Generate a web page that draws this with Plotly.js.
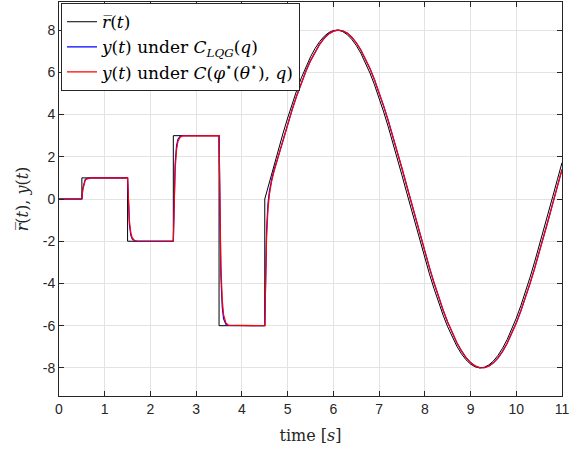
<!DOCTYPE html>
<html>
<head>
<meta charset="utf-8">
<script src="https://cdn.plot.ly/plotly-3.0.1.min.js"></script>
<style>html,body{margin:0;padding:0;background:#fff;}#plot{width:575px;height:449px;}</style>
</head>
<body>
<div id="plot"></div>
<script>
// Reference signal r(t): steps then sinusoid
const rTime = [0, 0.5, 0.5, 1.5, 1.5, 2.5, 2.5, 3.5, 3.5, 4.5,
  4.5, 4.6, 4.7, 4.8, 4.9, 5.0, 5.1, 5.2, 5.3, 5.4, 5.5, 5.6, 5.7, 5.8, 5.9, 6.0, 6.1, 6.2, 6.3, 6.4,
  6.5, 6.6, 6.7, 6.8, 6.9, 7.0, 7.1, 7.2, 7.3, 7.4, 7.5, 7.6, 7.7, 7.8, 7.9, 8.0, 8.1, 8.2, 8.3, 8.4,
  8.5, 8.6, 8.7, 8.8, 8.9, 9.0, 9.1, 9.2, 9.3, 9.4, 9.5, 9.6, 9.7, 9.8, 9.9, 10.0, 10.1, 10.2, 10.3, 10.4,
  10.5, 10.6, 10.7, 10.8, 10.9, 11.0];
const rValue = [0, 0, 1, 1, -2, -2, 3, 3, -6, -6,
  0, 0.799, 1.589, 2.364, 3.115, 3.835, 4.517, 5.154, 5.739, 6.267, 6.732, 7.130, 7.456, 7.709, 7.883, 7.980, 7.997, 7.934, 7.791, 7.570,
  7.274, 6.906, 6.468, 5.966, 5.404, 4.788, 4.124, 3.419, 2.680, 1.914, 1.129, 0.333, -0.467, -1.262, -2.044, -2.806, -3.540, -4.238, -4.895, -5.502,
  -6.054, -6.546, -6.973, -7.330, -7.613, -7.820, -7.949, -7.999, -7.969, -7.860, -7.671, -7.406, -7.068, -6.658, -6.182, -5.644, -5.050, -4.406, -3.717, -2.991,
  -2.235, -1.458, -0.665, 0.134, 0.932, 1.721];

// Output time grid
const yTime = [0, 0.5, 0.52, 0.54, 0.57, 0.6, 0.65, 0.7,
  1.5, 1.52, 1.54, 1.57, 1.6, 1.65, 1.7,
  2.5, 2.52, 2.54, 2.57, 2.6, 2.65, 2.7,
  3.5, 3.52, 3.54, 3.57, 3.6, 3.65, 3.7,
  4.5, 4.52, 4.54, 4.57, 4.6, 4.65, 4.7,
  4.8, 4.9, 5.0, 5.1, 5.2, 5.3, 5.4, 5.5, 5.6, 5.7, 5.8, 5.9, 6.0, 6.1, 6.2, 6.3, 6.4,
  6.5, 6.6, 6.7, 6.8, 6.9, 7.0, 7.1, 7.2, 7.3, 7.4, 7.5, 7.6, 7.7, 7.8, 7.9, 8.0, 8.1, 8.2, 8.3, 8.4,
  8.5, 8.6, 8.7, 8.8, 8.9, 9.0, 9.1, 9.2, 9.3, 9.4, 9.5, 9.6, 9.7, 9.8, 9.9, 10.0, 10.1, 10.2, 10.3, 10.4,
  10.5, 10.6, 10.7, 10.8, 10.9, 11.0];

// y(t) under C_LQG(q)
const yLQG = [0, 0, 0.487, 0.736, 0.903, 0.964, 0.993, 0.999,
  1, -0.46, -1.21, -1.71, -1.89, -1.98, -2.0,
  -2, 0.44, 1.68, 2.52, 2.82, 2.97, 3.0,
  3, -1.38, -3.62, -5.13, -5.68, -5.94, -5.99,
  -6, -3.04, -1.44, -0.24, 0.35, 0.92, 1.35,
  2.057, 2.818, 3.551, 4.249, 4.905, 5.511, 6.062, 6.553, 6.979, 7.334, 7.617, 7.823, 7.951, 8.000, 7.968, 7.857, 7.668,
  7.401, 7.060, 6.651, 6.174, 5.635, 5.040, 4.395, 3.706, 2.979, 2.223, 1.445, 0.652, -0.147, -0.945, -1.733, -2.504, -3.250, -3.964, -4.638,
  -5.266, -5.841, -6.358, -6.810, -7.191, -7.510, -7.746, -7.907, -7.989, -7.991, -7.913, -7.757, -7.525, -7.216, -6.830, -6.378, -5.865, -5.293, -4.667,
  -3.996, -3.286, -2.542, -1.772, -0.983, -0.185, 0.614, 1.407];

// y(t) under C(phi*(theta*), q)
const yOpt = [0, 0, 0.435, 0.681, 0.865, 0.943, 0.986, 0.997,
  1, -0.31, -1.04, -1.60, -1.83, -1.96, -1.99,
  -2, 0.18, 1.41, 2.33, 2.72, 2.93, 2.99,
  3, -0.92, -3.13, -4.79, -5.49, -5.87, -5.97,
  -6, -3.35, -1.78, -0.49, 0.19, 0.84, 1.29,
  2.030, 2.795, 3.530, 4.230, 4.888, 5.497, 6.050, 6.543, 6.971, 7.328, 7.612, 7.820, 7.950, 8.000, 7.970, 7.861, 7.674,
  7.409, 7.070, 6.662, 6.188, 5.650, 5.057, 4.413, 3.725, 2.999, 2.244, 1.467, 0.675, -0.125, -0.922, -1.711, -2.483, -3.230, -3.945, -4.620,
  -5.250, -5.827, -6.345, -6.799, -7.183, -7.503, -7.741, -7.904, -7.988, -7.992, -7.916, -7.762, -7.532, -7.225, -6.841, -6.391, -5.880, -5.309, -4.685,
  -4.015, -3.306, -2.563, -1.794, -1.005, -0.208, 0.591, 1.385];

const seriesNames = [
  '<i>r\u0305</i>(<i>t</i>)',
  '<i>y</i>(<i>t</i>) under <i>C</i><sub><i>LQG</i></sub>(<i>q</i>)',
  '<i>y</i>(<i>t</i>) under <i>C</i>(<i>\u03C6</i><sup>\u22C6</sup>(<i>\u03B8</i><sup>\u22C6</sup>), <i>q</i>)'
];
const xTicks = [0,1,2,3,4,5,6,7,8,9,10,11];
const yTicks = [-8,-6,-4,-2,0,2,4,6,8];

const SERIF = 'DejaVu Serif';
const SANS = 'Liberation Sans';

const traces = [
  {x: rTime, y: rValue, name: seriesNames[0], mode: 'lines', line: {color: '#000000', width: 1}},
  {x: yTime, y: yLQG, name: seriesNames[1], mode: 'lines', line: {color: '#0000ff', width: 1.2}},
  {x: yTime, y: yOpt, name: seriesNames[2], mode: 'lines', line: {color: '#ff0000', width: 1.2}}
];

const axisCommon = {
  showline: true, linecolor: '#262626', linewidth: 1, mirror: 'ticks',
  ticks: 'inside', ticklen: 5, tickcolor: '#262626', tickwidth: 1,
  showgrid: true, gridcolor: '#e3e3e3', gridwidth: 1, zeroline: false,
  tickfont: {family: SANS, size: 14, color: '#262626'}
};

const layout = {
  width: 575, height: 449,
  margin: {l: 59, r: 13, t: 2, b: 53},
  paper_bgcolor: '#ffffff', plot_bgcolor: '#ffffff',
  showlegend: true,
  legend: {
    x: 0.004, y: 0.997, xanchor: 'left', yanchor: 'top',
    bgcolor: '#ffffff', bordercolor: '#262626', borderwidth: 1,
    font: {family: SERIF, size: 17, color: '#000000'},
    tracegroupgap: 0
  },
  xaxis: Object.assign({}, axisCommon, {
    range: [0, 11], tickvals: xTicks, ticktext: xTicks.map(String),
    title: {text: 'time [<i>s</i>]', font: {family: SERIF, size: 16, color: '#262626'}, standoff: 14}
  }),
  yaxis: Object.assign({}, axisCommon, {
    range: [-9.33, 9.33], tickvals: yTicks, ticktext: yTicks.map(String),
    title: {text: '<i>r\u0305</i>(<i>t</i>), <i>y</i>(<i>t</i>)', font: {family: SERIF, size: 16, color: '#262626'}, standoff: 10}
  })
};

Plotly.newPlot('plot', traces, layout, {displayModeBar: false, staticPlot: true});
</script>
</body>
</html>
